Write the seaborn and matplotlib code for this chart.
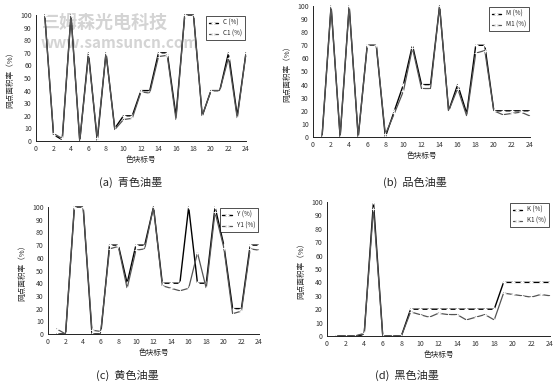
import numpy as np
import pandas as pd
import matplotlib
matplotlib.use('Agg')
import matplotlib.pyplot as plt
import seaborn as sns

# 色块标号
patch_no = list(range(1, 25))

# (a) 青色油墨
c_ref = [100, 5, 1, 100, 0, 70, 0, 70, 10, 20, 20, 40, 40, 70, 70, 20, 100, 100, 20, 40, 40, 70, 20, 70]
c_meas = [100, 6, 2, 100, 0, 68, 2, 70, 9, 17, 18, 39, 38, 67, 68, 17, 100, 100, 20, 40, 40, 66, 18, 70]

# (b) 品色油墨
m_ref = [0, 100, 0, 100, 0, 70, 70, 0, 20, 40, 70, 40, 40, 100, 20, 40, 18, 70, 70, 20, 20, 20, 20, 20]
m_meas = [0, 100, 0, 100, 0, 70, 70, 2, 18, 35, 68, 37, 37, 100, 20, 37, 16, 64, 66, 20, 17, 18, 19, 16]

# (c) 黄色油墨
y_ref = [0, 0, 100, 100, 0, 0, 70, 70, 40, 70, 70, 100, 40, 40, 40, 100, 40, 40, 100, 70, 20, 20, 70, 70]
y_meas = [4, 0, 100, 100, 3, 2, 67, 69, 36, 66, 67, 100, 38, 36, 34, 36, 64, 36, 96, 68, 16, 18, 67, 66]

# (d) 黑色油墨
k_ref = [0, 0, 0, 1, 100, 0, 0, 0, 20, 20, 20, 20, 20, 20, 20, 20, 20, 20, 40, 40, 40, 40, 40, 40]
k_meas = [0, 0, 0, 2, 95, 0, 0, 0, 18, 16, 14, 17, 16, 16, 12, 14, 16, 12, 32, 31, 30, 29, 31, 30]

panels = [
    ('C (%)', 'C1 (%)', c_ref, c_meas, '(a)  青色油墨'),
    ('M (%)', 'M1 (%)', m_ref, m_meas, '(b)  品色油墨'),
    ('Y (%)', 'Y1 (%)', y_ref, y_meas, '(c)  黄色油墨'),
    ('K (%)', 'K1 (%)', k_ref, k_meas, '(d)  黑色油墨'),
]

sns.set_style('white')
plt.rcParams['font.family'] = ['Noto Sans CJK SC', 'DejaVu Sans']

W, H = 560, 386
fig = plt.figure(figsize=(W / 100, H / 100), dpi=100)

# axes boxes in pixels: x0, x24, y100, y0
boxes = [(36, 246, 15, 141), (313, 530, 6, 137), (48, 259, 207, 334), (327, 550, 202, 336)]
captions = [(131, 182), (415, 182), (127, 375), (407, 375)]

for (l1, l2, a, b, cap), (x0, x1, yt, yb), (cx, cy) in zip(panels, boxes, captions):
    ax = fig.add_axes([x0 / W, 1 - yb / H, (x1 - x0) / W, (yb - yt) / H])
    ax.patch.set_alpha(0)
    df = pd.DataFrame({'no': patch_no, 'ref': a, 'meas': b})
    sns.lineplot(data=df, x='no', y='ref', ax=ax, color='black', lw=1.0,
                 marker='+', markersize=3.5, mew=1.0, label=l1, clip_on=False)
    sns.lineplot(data=df, x='no', y='meas', ax=ax, color='#555555', lw=0.9,
                 marker='+', markersize=2.5, mew=0.6, label=l2, clip_on=False)
    ax.set_xlim(0, 24)
    ax.set_ylim(0, 100)
    ax.set_xticks(range(0, 25, 2))
    ax.set_yticks(range(0, 101, 10))
    ax.tick_params(direction='in', length=2, width=0.6, labelsize=5, pad=3, colors='#333333')
    for s in ['top', 'right']:
        ax.spines[s].set_visible(False)
    for s in ['left', 'bottom']:
        ax.spines[s].set_linewidth(0.7)
        ax.spines[s].set_color('#222222')
    ax.set_xlabel('色块标号', fontsize=5.5, labelpad=2)
    ax.set_ylabel('网点面积率（%）', fontsize=5.5, labelpad=4)
    leg = ax.legend(loc='upper right', fontsize=4.5, frameon=True, fancybox=False,
                    edgecolor='black', handlelength=1.5, borderpad=0.4, numpoints=1,
                    labelspacing=0.5, borderaxespad=0.2)
    leg.get_frame().set_linewidth(0.6)
    fig.text(cx / W, 1 - cy / H, cap, ha='center', va='center', fontsize=8)
    if cap.startswith('(a)'):
        # watermark
        ax.text(105 / W, 1 - 22 / H, '三姆森光电科技', transform=fig.transFigure,
                ha='center', va='center', fontsize=13, fontweight='bold',
                color='#d4d4d4', zorder=0.5)
        ax.text(120 / W, 1 - 43 / H, 'www.samsuncn.com', transform=fig.transFigure,
                ha='center', va='center', fontsize=11, fontweight='bold',
                color='#d4d4d4', zorder=0.5)

fig.savefig('out.png', dpi=100)
